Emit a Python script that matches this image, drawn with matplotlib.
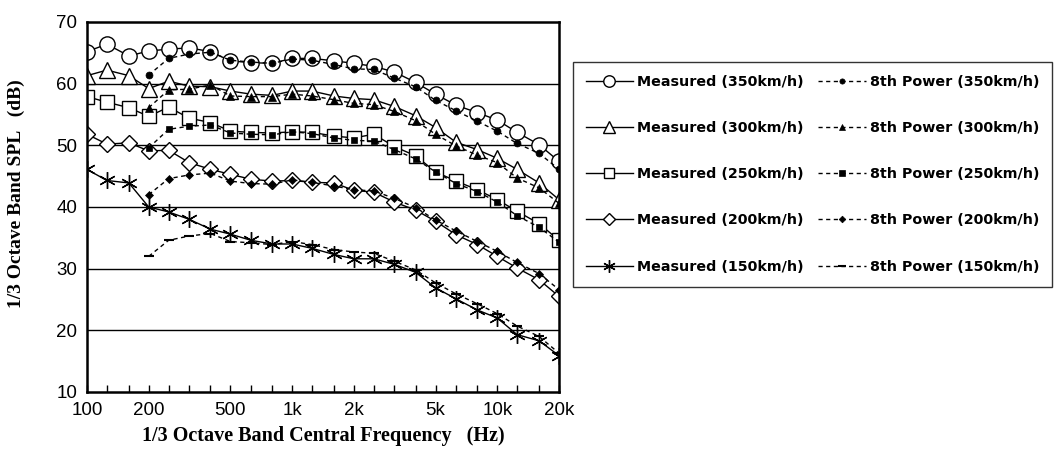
import matplotlib
matplotlib.use("Agg")
import matplotlib.pyplot as plt
from matplotlib.ticker import FixedLocator, NullFormatter

freq = [100, 125, 160, 200, 250, 315, 400, 500, 630, 800, 1000, 1250,
        1600, 2000, 2500, 3150, 4000, 5000, 6300, 8000, 10000, 12500, 16000, 20000]

# measured spectra (dB)
meas_350 = [65.2, 66.4, 64.5, 65.3, 65.6, 65.8, 65.2, 63.7, 63.4, 63.3, 64.1, 64.1,
            63.7, 63.3, 62.8, 61.9, 60.2, 58.3, 56.5, 55.3, 54.1, 52.1, 50.1, 47.4]
meas_300 = [61.3, 62.2, 61.3, 59.2, 60.4, 59.6, 59.5, 58.8, 58.3, 58.1, 58.8, 58.8,
            58.0, 57.6, 57.4, 56.3, 54.8, 52.9, 50.5, 49.3, 47.9, 46.1, 43.9, 41.2]
meas_250 = [57.9, 57.0, 56.1, 54.7, 56.2, 54.4, 53.7, 52.3, 52.1, 52.0, 52.2, 52.1,
            51.5, 51.2, 51.8, 49.8, 48.3, 45.7, 44.2, 42.8, 41.2, 39.3, 37.3, 34.6]
meas_200 = [51.8, 50.2, 50.4, 49.1, 49.2, 47.2, 46.1, 45.3, 44.5, 44.2, 44.3, 44.0,
            43.9, 42.7, 42.4, 40.8, 39.5, 37.7, 35.5, 33.9, 32.0, 30.1, 28.2, 25.5]
meas_150 = [46.1, 44.3, 43.9, 40.0, 39.2, 38.0, 36.4, 35.6, 34.6, 34.0, 34.0, 33.3,
            32.3, 31.6, 31.6, 30.7, 29.4, 26.9, 25.1, 23.3, 22.0, 19.3, 18.3, 15.9]

# 8th power law estimates start at 200 Hz
freq_p = freq[3:]
pow_350 = [61.4, 64.1, 64.8, 65.1, 63.8, 63.5, 63.3, 64.0, 63.8,
           63.1, 62.4, 62.3, 60.9, 59.5, 57.3, 55.6, 53.9, 52.3, 50.3, 48.7, 46.1]
pow_300 = [56.1, 59.0, 59.1, 59.8, 58.0, 57.9, 57.9, 58.3, 58.0,
           57.4, 56.8, 56.6, 55.5, 54.0, 51.8, 49.9, 48.4, 47.2, 44.7, 43.1, 40.6]
pow_250 = [49.6, 52.6, 53.1, 53.3, 52.0, 51.8, 51.7, 52.2, 51.9,
           51.2, 50.8, 50.7, 49.3, 47.8, 45.7, 43.8, 42.5, 40.8, 38.6, 36.7, 34.3]
pow_200 = [42.0, 44.6, 45.2, 45.5, 44.2, 43.8, 43.7, 44.4, 44.0,
           43.4, 42.8, 42.6, 41.4, 39.9, 37.9, 36.1, 34.4, 32.8, 31.0, 29.2, 26.6]
pow_150 = [32.0, 34.6, 35.3, 35.7, 34.4, 34.2, 33.9, 34.4, 33.9,
           33.1, 32.7, 32.5, 31.2, 29.8, 27.7, 25.9, 24.3, 22.7, 20.7, 19.0, 16.3]

speeds = ["350", "300", "250", "200", "150"]
measured = [meas_350, meas_300, meas_250, meas_200, meas_150]
power = [pow_350, pow_300, pow_250, pow_200, pow_150]
open_marks = ["o", "^", "s", "D", (6, 2, 0)]
open_sizes = [11, 11, 10, 8.5, 12]
fill_marks = ["o", "^", "s", "D", "_"]
fill_sizes = [5, 5.5, 5, 4.5, 7]

xticks = [100, 200, 500, 1000, 2000, 5000, 10000, 20000]
xtick_labels = ["100", "200", "500", "1k", "2k", "5k", "10k", "20k"]

fig = plt.figure(figsize=(10.59, 4.51), dpi=100)
ax = fig.add_axes([87 / 1059, 1 - 392 / 451, 472 / 1059, 370 / 451])

meas_handles = []
pow_handles = []
for i in range(5):
    h1, = ax.plot(freq, measured[i], color="black", lw=1.0, marker=open_marks[i],
                  ms=open_sizes[i], mfc="white", mec="black", mew=1.0,
                  label="Measured (%skm/h)" % speeds[i])
    meas_handles.append(h1)
for i in range(5):
    h2, = ax.plot(freq_p, power[i], color="black", lw=1.0, ls=(0, (3, 2.5)),
                  marker=fill_marks[i], ms=fill_sizes[i], mfc="black", mec="black",
                  mew=1.5 if fill_marks[i] == "_" else 0.5,
                  label="8th Power (%skm/h)" % speeds[i])
    pow_handles.append(h2)

ax.set_xscale("log")
ax.set_xlim(100, 20000)
ax.set_ylim(10, 70)
ax.xaxis.set_major_locator(FixedLocator(xticks))
ax.set_xticklabels(xtick_labels)
ax.xaxis.set_minor_locator(FixedLocator(freq))
ax.xaxis.set_minor_formatter(NullFormatter())
ax.tick_params(axis="x", which="both", direction="in", length=5, width=1,
               labelsize=13.5, pad=7)
ax.tick_params(axis="y", which="both", length=0, labelsize=13.5, pad=7)
ax.set_yticks(range(10, 71, 10))
for lab in ax.get_xticklabels() + ax.get_yticklabels():
    lab.set_family("Liberation Sans")

for y in range(20, 70, 10):
    ax.axhline(y, color="black", lw=1.0, zorder=0)
for s in ax.spines.values():
    s.set_linewidth(1.8)

ax.set_xlabel("1/3 Octave Band Central Frequency   (Hz)", family="Liberation Serif",
              fontweight="bold", fontsize=14.5, labelpad=5)
ax.set_ylabel("1/3 Octave Band SPL   (dB)", family="Liberation Serif",
              fontweight="bold", fontsize=14)
ax.yaxis.set_label_coords(-62 / 472, 0.535)

leg = fig.legend(meas_handles + pow_handles,
                 [h.get_label() for h in meas_handles + pow_handles],
                 loc="upper left", bbox_to_anchor=(573 / 1059, 1 - 62 / 451),
                 ncol=2, frameon=True, fancybox=False, edgecolor="black",
                 prop={"family": "DejaVu Sans", "weight": "bold", "size": 10.3},
                 handlelength=3.3, handletextpad=0.3, columnspacing=1.0,
                 labelspacing=2.25, markerscale=0.75, borderpad=0.9,
                 borderaxespad=0)
leg.get_frame().set_linewidth(1.0)

fig.savefig("out.png", dpi=100)
